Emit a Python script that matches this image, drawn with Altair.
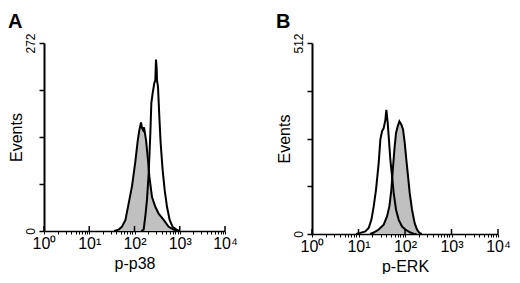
import altair as alt
import pandas as pd
import math

# ---- Panel A : p-p38 (x in log10 units, y = events) ----
a_gray_log = [1.55, 1.65, 1.72, 1.80, 1.886, 1.945, 2.018, 2.07, 2.107, 2.144, 2.166, 2.19, 2.21,
              2.254, 2.298, 2.328, 2.387, 2.46, 2.534, 2.645, 2.755, 2.866, 2.95]
a_gray_cnt = [0, 2, 6, 16, 45, 65, 100, 130, 146, 157, 149, 146, 150,
              132, 103, 79, 49, 35, 25, 16, 6, 2, 0]
a_open_log = [2.15, 2.202, 2.239, 2.276, 2.313, 2.35, 2.372, 2.401, 2.438, 2.46, 2.475, 2.49, 2.497,
              2.519, 2.549, 2.578, 2.622, 2.667, 2.718, 2.777, 2.843, 2.939, 3.0]
a_open_cnt = [0, 2, 21, 45, 83, 141, 185, 199, 214, 218, 248, 235, 218,
              209, 165, 127, 88, 59, 35, 16, 6, 1.5, 0]

# ---- Panel B : p-ERK ----
b_open_log = [0.95, 1.04, 1.148, 1.219, 1.277, 1.327, 1.377, 1.434, 1.47, 1.506, 1.542, 1.578, 1.599,
              1.628, 1.649, 1.685, 1.721, 1.757, 1.807, 1.865, 1.936, 2.008, 2.115, 2.187, 2.25]
b_open_cnt = [0, 3, 7, 16, 38, 74, 119, 190, 253, 275, 284, 306, 333,
              298, 262, 199, 155, 110, 65, 38, 20, 12, 4, 1, 0]
b_gray_log = [1.25, 1.327, 1.434, 1.542, 1.613, 1.664, 1.707, 1.743, 1.778, 1.807, 1.843, 1.879,
              1.922, 1.958, 1.994, 2.029, 2.065, 2.101, 2.151, 2.208, 2.258, 2.308, 2.36]
b_gray_cnt = [0, 4, 12, 25, 47, 74, 119, 181, 235, 271, 289, 302,
              293, 280, 244, 199, 155, 110, 65, 29, 12, 3, 0]

major_ticks = [0, 1, 2, 3, 4]
minor_ticks = [d + math.log10(k) for d in range(4) for k in range(2, 10)]
sup = ['\u2070', '\u00b9', '\u00b2', '\u00b3', '\u2074']
label_expr = ("datum.value % 1 == 0 ? '10' + ["
              + ",".join("'" + s + "'" for s in sup)
              + "][datum.value] : ''")


def panel(letter, gray_log, gray_cnt, open_log, open_cnt, ymax, xtitle, w, h):
    gray = pd.DataFrame({'x': gray_log, 'y': gray_cnt})
    opn = pd.DataFrame({'x': open_log, 'y': open_cnt})
    ticks = pd.DataFrame({'x': major_ticks})
    xscale = alt.Scale(domain=[0, 4], nice=False, zero=False)
    yscale = alt.Scale(domain=[0, ymax], nice=False)
    xaxis = alt.Axis(values=major_ticks + minor_ticks, labelExpr=label_expr, tickSize=3,
                     tickColor='black', domainColor='black', domainWidth=1.5, tickWidth=1,
                     labelFontSize=16, labelColor='black', titleFontSize=16,
                     titleFontWeight='normal', titleColor='black', labelOverlap=False,
                     labelPadding=1, grid=False, labelFlush=False, titlePadding=4)
    yvals = [0, ymax / 4, ymax / 2, 3 * ymax / 4, ymax]
    yaxis = alt.Axis(values=yvals,
                     labelExpr="datum.value == 0 || datum.value == " + str(ymax)
                               + " ? datum.label : ''",
                     labelAngle=270, labelAlign='center', labelBaseline='bottom', tickSize=5,
                     tickColor='black', domainColor='black', domainWidth=2, tickWidth=1.5,
                     labelFontSize=12, labelColor='black', titleFontSize=16,
                     titleFontWeight='normal', titleColor='black', grid=False,
                     labelPadding=2, titlePadding=0, labelOverlap=False, labelFlush=False)
    X = alt.X('x:Q', scale=xscale, axis=xaxis, title=xtitle)
    Y = alt.Y('y:Q', scale=yscale, axis=yaxis, title='Events')
    area = alt.Chart(gray).mark_area(color='#c0c0c0').encode(x=X, y=Y)
    gline = alt.Chart(gray).mark_line(color='black', strokeWidth=2).encode(x=X, y=Y)
    oline = alt.Chart(opn).mark_line(color='black', strokeWidth=2).encode(x=X, y=Y)
    trule = alt.Chart(ticks).mark_rule(color='black', strokeWidth=1.5).encode(
        x=X, y=alt.value(h), y2=alt.value(h - 5))
    return alt.layer(area, gline, oline, trule).properties(
        width=w, height=h,
        title=alt.TitleParams(letter, anchor='start', frame='bounds', fontSize=20,
                              fontWeight='bold', offset=0, dy=-1, color='black'))


pa = panel('A', a_gray_log, a_gray_cnt, a_open_log, a_open_cnt, 272, 'p-p38', 181, 188)
pb = panel('B', b_gray_log, b_gray_cnt, b_open_log, b_open_cnt, 512, 'p-ERK', 186, 191)

chart = alt.hconcat(pa, pb, spacing=38).properties(
    padding={"top": 3, "left": 0, "right": 0, "bottom": 0}).configure(
    font='Liberation Sans').configure_view(stroke=None)

chart.save("out.html", embed_options={"renderer": "svg", "actions": False})
